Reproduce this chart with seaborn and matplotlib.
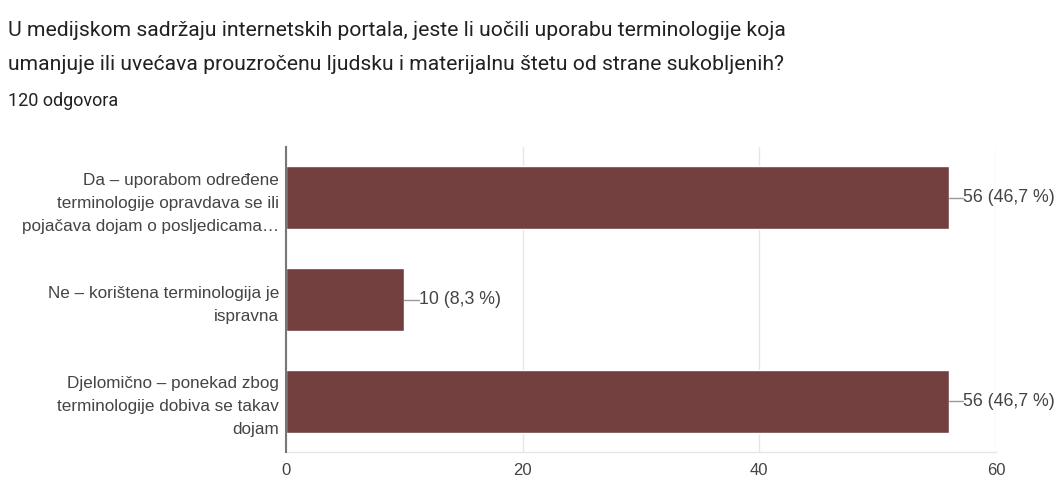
import matplotlib
matplotlib.use("Agg")
import matplotlib.pyplot as plt
import seaborn as sns
import pandas as pd

categories = [
    "Da – uporabom određene\nterminologije opravdava se ili\npojačava dojam o posljedicama…",
    "Ne – korištena terminologija je\nispravna",
    "Djelomično – ponekad zbog\nterminologije dobiva se takav\ndojam",
]
counts = [56, 10, 56]
percent_labels = ["46,7 %", "8,3 %", "46,7 %"]
x_ticks = [0, 20, 40, 60]

title_line1 = "U medijskom sadržaju internetskih portala, jeste li uočili uporabu terminologije koja"
title_line2 = "umanjuje ili uvećava prouzročenu ljudsku i materijalnu štetu od strane sukobljenih?"
subtitle = "120 odgovora"

sns.set_theme(style="white")
plt.rcParams["font.family"] = ["Roboto", "DejaVu Sans"]

bar_color = "#733F3F"
text_color = "#444444"
chart_font = ["Liberation Sans", "DejaVu Sans"]

df = pd.DataFrame({"odgovor": categories, "broj": counts})

fig = plt.figure(figsize=(10.59, 4.82), dpi=100)
ax = fig.add_axes([286 / 1059, 1 - 452 / 482, (996 - 286) / 1059, (452 - 147) / 482])

sns.barplot(data=df, x="broj", y="odgovor", color=bar_color, width=0.62,
            saturation=1, ax=ax, zorder=3)

ax.set_xlim(0, 60)
ax.set_ylim(2.5, -0.5)
ax.set_xticks(x_ticks)
ax.set_xticklabels([str(t) for t in x_ticks])
ax.set_xlabel("")
ax.set_ylabel("")
ax.grid(axis="x", color="#e6e6e6", linewidth=1, zorder=0)
ax.grid(axis="y", visible=False)
for side in ["top", "right"]:
    ax.spines[side].set_visible(False)
ax.spines["bottom"].set_color("#e6e6e6")
ax.spines["bottom"].set_linewidth(1)
ax.spines["left"].set_color("#777777")
ax.spines["left"].set_linewidth(1.5)
ax.spines["left"].set_zorder(4)
ax.tick_params(axis="x", length=0, pad=8, labelsize=12, labelcolor=text_color)
ax.tick_params(axis="y", length=0, pad=5, labelsize=12.3, labelcolor=text_color)
for lbl in ax.get_xticklabels():
    lbl.set_family(chart_font)
for lbl in ax.get_yticklabels():
    lbl.set_family(chart_font)
    lbl.set_horizontalalignment("right")
    lbl.set_multialignment("right")
    lbl.set_linespacing(1.65)

# value labels with a short leader line from each bar end
for i, (c, p) in enumerate(zip(counts, percent_labels)):
    ax.plot([c, c + 1.2], [i, i], color="#999999", linewidth=1, zorder=3,
            clip_on=False)
    ax.text(c + 1.25, i, f"{c} ({p})", va="center", ha="left",
            fontsize=12.8, color=text_color, family=chart_font, clip_on=False)

fig.text(8 / 1059, 1 - 30 / 482, title_line1, fontsize=15.2, color="#202124",
         va="center", ha="left")
fig.text(8 / 1059, 1 - 64 / 482, title_line2, fontsize=15.2, color="#202124",
         va="center", ha="left")
fig.text(8 / 1059, 1 - 101 / 482, subtitle, fontsize=13, color="#202124",
         va="center", ha="left")

fig.savefig("out.png", dpi=100, facecolor="white")
